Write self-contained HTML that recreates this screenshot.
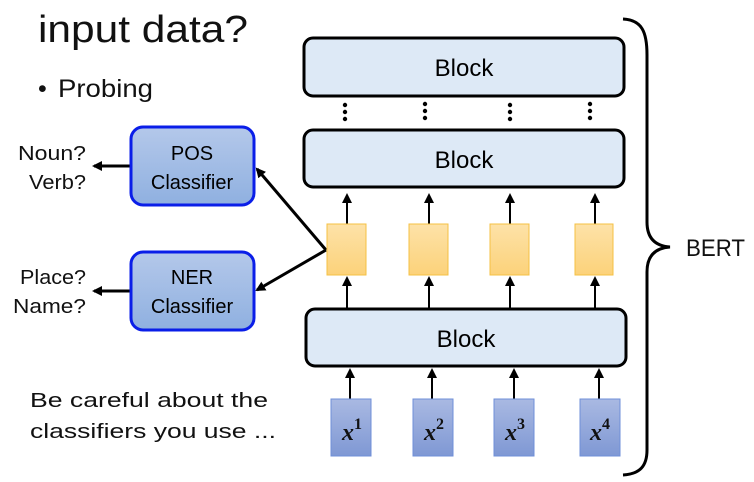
<!DOCTYPE html>
<html><head><meta charset="utf-8"><style>
html,body{margin:0;padding:0;background:#fff;}
svg{display:block;font-family:"Liberation Sans",sans-serif;}
</style></head><body>
<svg width="754" height="482" viewBox="0 0 754 482" xmlns="http://www.w3.org/2000/svg">
<defs>
<linearGradient id="cls" x1="0" y1="0" x2="0" y2="1"><stop offset="0" stop-color="#b4c8ea"/><stop offset="1" stop-color="#8fb0e0"/></linearGradient>
<linearGradient id="yel" x1="0" y1="0" x2="0" y2="1"><stop offset="0" stop-color="#fde2a8"/><stop offset="1" stop-color="#fcd27a"/></linearGradient>
<linearGradient id="inp" x1="0" y1="0" x2="0" y2="1"><stop offset="0" stop-color="#a9b9e2"/><stop offset="1" stop-color="#7f98d4"/></linearGradient>
<marker id="ah" markerWidth="10" markerHeight="10" refX="8" refY="5" orient="auto" markerUnits="userSpaceOnUse"><path d="M0,0 L10,5 L0,10 z" fill="#000"/></marker>
</defs>
<text x="38" y="42" font-size="38" fill="#111" textLength="210" lengthAdjust="spacingAndGlyphs">input data?</text>
<text x="38" y="97" font-size="25" fill="#111">•</text>
<text x="58" y="97" font-size="25" fill="#111" textLength="95" lengthAdjust="spacingAndGlyphs">Probing</text>

<rect x="304" y="38" width="320" height="58" rx="9" fill="#dde9f6" stroke="#000" stroke-width="3"/>
<text x="464" y="76" font-size="24" text-anchor="middle">Block</text>
<rect x="304" y="130" width="320" height="57" rx="9" fill="#dde9f6" stroke="#000" stroke-width="3"/>
<text x="464" y="168" font-size="24" text-anchor="middle">Block</text>
<rect x="306" y="309" width="320" height="57" rx="9" fill="#dde9f6" stroke="#000" stroke-width="3"/>
<text x="466" y="347" font-size="24" text-anchor="middle">Block</text>

<g fill="#000">
<circle cx="345" cy="105" r="2.2"/><circle cx="345" cy="112" r="2.2"/><circle cx="345" cy="119" r="2.2"/>
<circle cx="425" cy="104" r="2.2"/><circle cx="425" cy="111" r="2.2"/><circle cx="425" cy="118" r="2.2"/>
<circle cx="510" cy="105" r="2.2"/><circle cx="510" cy="112" r="2.2"/><circle cx="510" cy="119" r="2.2"/>
<circle cx="590" cy="104" r="2.2"/><circle cx="590" cy="111" r="2.2"/><circle cx="590" cy="118" r="2.2"/>
</g>

<g stroke="#000" stroke-width="2" marker-end="url(#ah)">
<line x1="347" y1="224" x2="347" y2="195"/><line x1="429" y1="224" x2="429" y2="195"/>
<line x1="510" y1="224" x2="510" y2="195"/><line x1="595" y1="224" x2="595" y2="195"/>
<line x1="347" y1="308" x2="347" y2="278"/><line x1="429" y1="308" x2="429" y2="278"/>
<line x1="510" y1="308" x2="510" y2="278"/><line x1="595" y1="308" x2="595" y2="278"/>
<line x1="350" y1="399" x2="350" y2="370"/><line x1="432" y1="399" x2="432" y2="370"/>
<line x1="514" y1="399" x2="514" y2="370"/><line x1="599" y1="399" x2="599" y2="370"/>
</g>
<g stroke="#000" stroke-width="3" marker-end="url(#ah)">
<line x1="326" y1="250" x2="257" y2="169"/><line x1="326" y1="250" x2="257" y2="290"/>
<line x1="131" y1="166" x2="94" y2="166"/><line x1="131" y1="291" x2="94" y2="291"/>
</g>

<g fill="url(#yel)" stroke="#f5c043" stroke-width="1">
<rect x="327" y="224" width="39" height="51"/><rect x="409" y="224" width="39" height="51"/>
<rect x="490" y="224" width="39" height="51"/><rect x="575" y="224" width="38" height="51"/>
</g>

<g fill="url(#inp)" stroke="#6f8fd8" stroke-width="1">
<rect x="331" y="399" width="40" height="57"/><rect x="413" y="399" width="40" height="57"/>
<rect x="494" y="399" width="40" height="57"/><rect x="580" y="399" width="40" height="57"/>
</g>
<g font-family="Liberation Serif,serif" font-weight="bold" font-style="italic" font-size="24" fill="#111">
<text x="342" y="440">x<tspan font-style="normal" font-size="16" dy="-11">1</tspan></text>
<text x="424" y="440">x<tspan font-style="normal" font-size="16" dy="-11">2</tspan></text>
<text x="505" y="440">x<tspan font-style="normal" font-size="16" dy="-11">3</tspan></text>
<text x="590" y="440">x<tspan font-style="normal" font-size="16" dy="-11">4</tspan></text>
</g>

<rect x="131" y="127" width="123" height="78" rx="12" fill="url(#cls)" stroke="#0a1ee8" stroke-width="3"/>
<text x="192" y="160" font-size="20" text-anchor="middle">POS</text>
<text x="192" y="189" font-size="20" text-anchor="middle">Classifier</text>
<rect x="131" y="252" width="123" height="78" rx="12" fill="url(#cls)" stroke="#0a1ee8" stroke-width="3"/>
<text x="192" y="284" font-size="20" text-anchor="middle">NER</text>
<text x="192" y="313" font-size="20" text-anchor="middle">Classifier</text>

<g font-size="20" fill="#111">
<text x="18" y="160" textLength="68" lengthAdjust="spacingAndGlyphs">Noun?</text>
<text x="29" y="189" textLength="57" lengthAdjust="spacingAndGlyphs">Verb?</text>
<text x="20" y="284" textLength="66" lengthAdjust="spacingAndGlyphs">Place?</text>
<text x="13" y="313" textLength="73" lengthAdjust="spacingAndGlyphs">Name?</text>
</g>

<text x="30" y="407" font-size="20" fill="#111" textLength="238" lengthAdjust="spacingAndGlyphs">Be careful about the</text>
<text x="30" y="438" font-size="20" fill="#111" textLength="246" lengthAdjust="spacingAndGlyphs">classifiers you use ...</text>

<path d="M623,19 C642,20 647,32 647,55 L647,222 C647,238 655,246 670,247 C655,248 647,256 647,272 L647,450 C647,466 640,474 623,475" fill="none" stroke="#000" stroke-width="3"/>
<text x="686" y="256" font-size="24" fill="#111" textLength="59" lengthAdjust="spacingAndGlyphs">BERT</text>
</svg>
</body></html>
